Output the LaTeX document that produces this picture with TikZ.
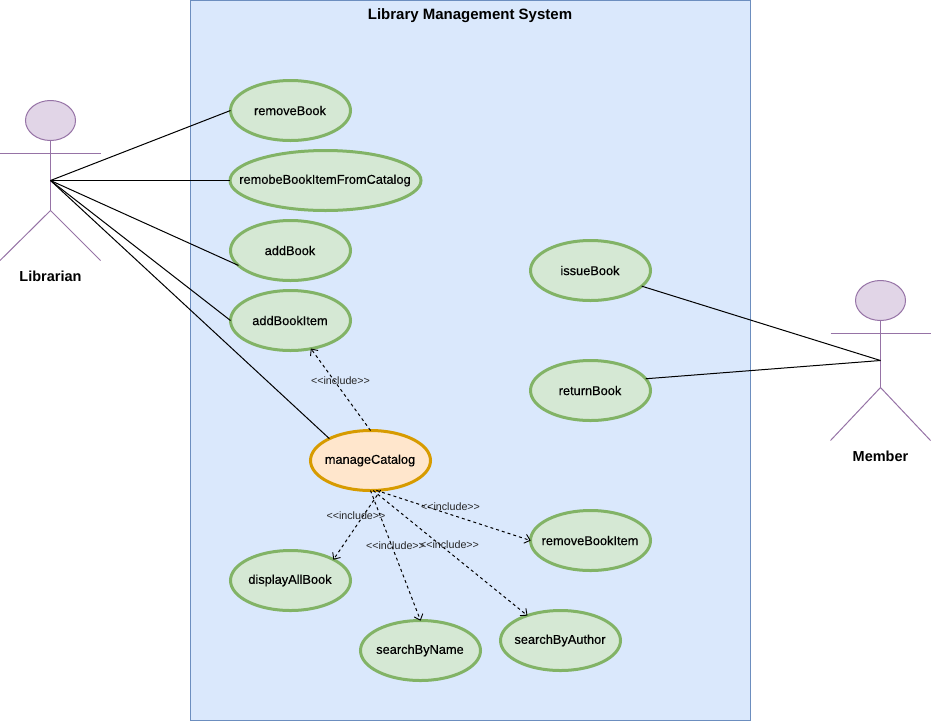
\documentclass[tikz,border=0pt]{standalone}
\usepackage{fontspec}
\setmainfont{Liberation Sans}
\newfontfamily\ucfont[FakeBold=0.25]{Liberation Sans}
\usetikzlibrary{shapes.geometric,arrows.meta}
\definecolor{sysfill}{HTML}{DAE8FC}
\definecolor{sysline}{HTML}{6C8EBF}
\definecolor{ucfill}{HTML}{D5E8D4}
\definecolor{ucline}{HTML}{82B366}
\definecolor{orfill}{HTML}{FFE6CC}
\definecolor{orline}{HTML}{D79B00}
\definecolor{acfill}{HTML}{E1D5E7}
\definecolor{acline}{HTML}{9673A6}
\newcommand{\uclabel}[1]{\raisebox{-0.6pt}{\makebox[0pt]{\hspace*{-1pt}#1}}}
\tikzset{
  usecase/.style={ellipse,draw=ucline,fill=ucfill,line width=3pt,minimum width=120pt,minimum height=60pt,inner sep=0pt,outer sep=0pt,font=\ucfont\fontsize{12.8}{15}\selectfont,text=black},
  mainuc/.style={usecase,draw=orline,fill=orfill},
  limb/.style={draw=acline,line width=1pt},
  assoc/.style={draw=black,line width=1pt},
  incl/.style={draw=black,line width=1pt,dash pattern=on 3pt off 3pt,-{Straight Barb[length=5pt,width=9pt,line width=.9pt,round]}},
  incllabel/.style={font=\fontsize{10.7}{13}\selectfont,inner sep=0pt,text=black!85},
  actorname/.style={font=\fontsize{14.5}{17}\bfseries\selectfont,inner sep=0pt},
}
\begin{document}
\begin{tikzpicture}[x=1pt,y=-1pt]
\useasboundingbox (0,0) rectangle (931,721);
\node[draw=sysline,fill=sysfill,line width=1pt,minimum width=560pt,minimum height=720pt,inner sep=0pt,outer sep=0pt] (system) at (470.5,360.5) {};
\node[font=\fontsize{15}{17}\bfseries\selectfont,inner sep=0pt] (title) at (470,16) {Library Management System};
% use cases
\node[usecase] (removeBook) at (290.5,110.5) {\uclabel{removeBook}};
\node[usecase,minimum width=191pt] (remobe) at (325.5,180.5) {\uclabel{remobeBookItemFromCatalog}};
\node[usecase] (addBook) at (290.5,250.5) {\uclabel{addBook}};
\node[usecase] (addBookItem) at (290.5,320.5) {\uclabel{addBookItem}};
\node[mainuc] (manageCatalog) at (370.5,460.5) {\uclabel{manageCatalog}};
\node[usecase] (displayAllBook) at (290.5,580.5) {\uclabel{displayAllBook}};
\node[usecase] (searchByName) at (420.5,650.5) {\uclabel{searchByName}};
\node[usecase] (searchByAuthor) at (560.5,640.5) {\uclabel{searchByAuthor}};
\node[usecase] (removeBookItem) at (590.5,540.5) {\uclabel{removeBookItem}};
\node[usecase] (issueBook) at (590.5,270.5) {\uclabel{issueBook}};
\node[usecase] (returnBook) at (590.5,390.5) {\uclabel{returnBook}};
% Librarian actor
\node[ellipse,draw=acline,fill=acfill,line width=1pt,minimum width=50pt,minimum height=40pt,inner sep=0pt,outer sep=0pt] (libHead) at (50.5,120.5) {};
\coordinate (libHip) at (50.5,210.5);
\coordinate (libHand) at (50.5,180.5);
\coordinate (libArmL) at (0,153.5);
\coordinate (libArmR) at (100.5,153.5);
\coordinate (libFootL) at (0,260.5);
\coordinate (libFootR) at (100.5,260.5);
\draw[limb] (libHead.south) -- (libHip);
\draw[limb] (libArmL) -- (libArmR);
\draw[limb] (libFootL) -- (libHip) -- (libFootR);
\node[actorname] (libName) at (50.5,276) {Librarian};
% Member actor
\node[ellipse,draw=acline,fill=acfill,line width=1pt,minimum width=50pt,minimum height=40pt,inner sep=0pt,outer sep=0pt] (memHead) at (880.5,300.5) {};
\coordinate (memHip) at (880.5,387.5);
\coordinate (memHand) at (880.5,360.5);
\coordinate (memArmL) at (830.5,333.5);
\coordinate (memArmR) at (930.5,333.5);
\coordinate (memFootL) at (830.5,440.5);
\coordinate (memFootR) at (930.5,440.5);
\draw[limb] (memHead.south) -- (memHip);
\draw[limb] (memArmL) -- (memArmR);
\draw[limb] (memFootL) -- (memHip) -- (memFootR);
\node[actorname] (memName) at (880.5,456) {Member};
% associations
\draw[assoc] (libHand) -- (removeBook.west);
\draw[assoc] (libHand) -- (remobe.west);
\draw[assoc] (libHand) -- (addBook.196);
\draw[assoc] (libHand) -- (addBookItem.west);
\draw[assoc] (libHand) -- (manageCatalog.152);
\draw[assoc] (memHand) -- (issueBook.-17);
\draw[assoc] (memHand) -- (returnBook.12);
% includes
\draw[incl] (manageCatalog.north) -- (addBookItem.-54);
\draw[incl] (manageCatalog.-71) -- (displayAllBook.26);
\draw[incl] (manageCatalog.-90) -- (searchByName.north);
\draw[incl] (manageCatalog.-85) -- (searchByAuthor.143);
\draw[incl] (manageCatalog.-79) -- (removeBookItem.west);
\node[incllabel] (l1) at (340.5,380.5) {<{}<include>{}>};
\node[incllabel] (l2) at (356,515.5) {<{}<include>{}>};
\node[incllabel] (l3) at (395.5,546) {<{}<include>{}>};
\node[incllabel] (l4) at (449.5,544.5) {<{}<include>{}>};
\node[incllabel] (l5) at (450.5,506.5) {<{}<include>{}>};
\end{tikzpicture}
\end{document}
